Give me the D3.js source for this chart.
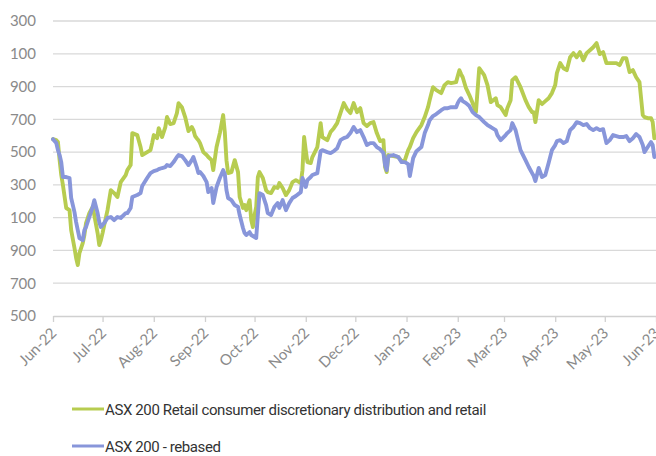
<!DOCTYPE html>
<html>
<head>
<meta charset="utf-8">
<script src="https://cdn.jsdelivr.net/npm/d3@7"></script>
<style>
  html, body { margin: 0; padding: 0; background: #ffffff; }
  svg { display: block; }
</style>
</head>
<body>
<svg id="chart" width="656" height="456"></svg>
<script>
// ---------------- DATA ----------------
const dates = [
"2022-06-01","2022-06-03","2022-06-04","2022-06-05","2022-06-06","2022-06-07","2022-06-09","2022-06-11","2022-06-12","2022-06-14",
"2022-06-15","2022-06-16","2022-06-17","2022-06-19","2022-06-20","2022-06-21","2022-06-23","2022-06-25","2022-06-26","2022-06-28",
"2022-06-29","2022-06-30","2022-07-01","2022-07-02","2022-07-04","2022-07-06","2022-07-08","2022-07-10","2022-07-12","2022-07-15",
"2022-07-16","2022-07-18","2022-07-19","2022-07-22","2022-07-24","2022-07-25","2022-07-28","2022-07-30","2022-07-31","2022-08-01",
"2022-08-03","2022-08-04","2022-08-06","2022-08-08","2022-08-09","2022-08-11","2022-08-13","2022-08-15","2022-08-16","2022-08-18",
"2022-08-20","2022-08-22","2022-08-24","2022-08-25","2022-08-26","2022-08-27","2022-08-28","2022-08-29","2022-08-31","2022-09-02",
"2022-09-03","2022-09-05","2022-09-06","2022-09-08","2022-09-10","2022-09-12","2022-09-13","2022-09-14","2022-09-15","2022-09-17",
"2022-09-19","2022-09-21","2022-09-22","2022-09-24","2022-09-25","2022-09-26","2022-09-28","2022-09-29","2022-09-30","2022-10-01",
"2022-10-02","2022-10-03","2022-10-04","2022-10-06","2022-10-08","2022-10-09","2022-10-11","2022-10-13","2022-10-15","2022-10-16",
"2022-10-18","2022-10-20","2022-10-22","2022-10-24","2022-10-26","2022-10-29","2022-10-30","2022-10-31","2022-11-01","2022-11-02",
"2022-11-04","2022-11-05","2022-11-08","2022-11-10","2022-11-11","2022-11-14","2022-11-16","2022-11-18","2022-11-20","2022-11-22",
"2022-11-24","2022-11-26","2022-11-28","2022-11-30","2022-12-02","2022-12-04","2022-12-06","2022-12-08","2022-12-10","2022-12-12",
"2022-12-14","2022-12-16","2022-12-18","2022-12-19","2022-12-20","2022-12-21","2022-12-24","2022-12-27","2022-12-29","2022-12-31",
"2023-01-02","2023-01-03","2023-01-05","2023-01-07","2023-01-10","2023-01-12","2023-01-14","2023-01-15","2023-01-17","2023-01-19",
"2023-01-22","2023-01-24","2023-01-26","2023-01-28","2023-01-31","2023-02-01","2023-02-02","2023-02-03","2023-02-04","2023-02-06",
"2023-02-08","2023-02-10","2023-02-12","2023-02-13","2023-02-14","2023-02-17","2023-02-19","2023-02-21","2023-02-24","2023-02-25",
"2023-02-27","2023-03-02","2023-03-03","2023-03-05","2023-03-06","2023-03-08","2023-03-11","2023-03-14","2023-03-16","2023-03-18",
"2023-03-19","2023-03-20","2023-03-22","2023-03-24","2023-03-26","2023-03-28","2023-03-30","2023-04-01","2023-04-02","2023-04-04",
"2023-04-06","2023-04-08","2023-04-10","2023-04-12","2023-04-14","2023-04-16","2023-04-18","2023-04-20","2023-04-22","2023-04-24",
"2023-04-26","2023-04-28","2023-04-30","2023-05-02","2023-05-04","2023-05-06","2023-05-08","2023-05-10","2023-05-12","2023-05-14",
"2023-05-16","2023-05-18","2023-05-20","2023-05-22","2023-05-24","2023-05-25","2023-05-27","2023-05-29","2023-05-30","2023-05-31"
];

const retailValues = [
7579,7573,7561,7451,7360,7299,7159,7146,7024,6915,
6854,6811,6884,6945,6994,7067,7128,7165,7116,7006,
6933,6963,7006,7055,7146,7268,7250,7226,7317,7360,
7390,7421,7616,7604,7531,7482,7500,7512,7555,7604,
7585,7646,7592,7653,7714,7671,7677,7738,7799,7774,
7714,7628,7653,7634,7598,7585,7573,7555,7500,7482,
7470,7451,7390,7531,7616,7726,7622,7451,7372,7378,
7451,7378,7226,7159,7177,7146,7207,7085,7043,7116,
7165,7348,7378,7342,7268,7256,7250,7287,7281,7311,
7281,7238,7268,7317,7329,7311,7390,7592,7512,7439,
7433,7470,7531,7677,7592,7573,7622,7646,7677,7738,
7799,7762,7738,7799,7744,7768,7677,7659,7677,7683,
7616,7567,7573,7409,7378,7482,7476,7470,7445,7451,
7512,7531,7585,7622,7665,7714,7774,7817,7896,7878,
7860,7909,7927,7921,7927,7964,8000,7976,7957,7890,
7848,7799,7744,7878,8012,7970,7909,7805,7829,7787,
7774,7726,7768,7817,7939,7957,7896,7817,7774,7744,
7744,7683,7817,7793,7811,7829,7860,7909,7982,8043,
8012,8000,8079,8104,8079,8110,8061,8104,8122,8140,
8165,8098,8110,8043,8043,8043,8043,8031,8073,8073,
7988,8000,7957,7927,7726,7714,7707,7707,7683,7585
];

const asxValues = [
7579,7555,7512,7482,7439,7348,7348,7342,7220,7134,
7073,7024,6976,6963,7024,7043,7104,7165,7207,7128,
7073,7043,7055,7067,7098,7104,7085,7104,7098,7128,
7128,7159,7226,7238,7250,7293,7342,7372,7378,7384,
7390,7396,7403,7409,7421,7415,7439,7470,7482,7476,
7451,7421,7451,7470,7439,7409,7372,7378,7354,7317,
7256,7281,7189,7287,7342,7390,7366,7268,7220,7207,
7177,7165,7116,7037,7006,6994,7012,6994,6988,6982,
6976,7116,7250,7238,7177,7128,7116,7165,7189,7159,
7207,7146,7189,7220,7232,7256,7342,7317,7287,7329,
7348,7360,7372,7506,7512,7500,7494,7506,7524,7573,
7585,7592,7616,7653,7622,7634,7592,7543,7555,7555,
7531,7518,7494,7421,7390,7476,7482,7470,7439,7439,
7427,7354,7463,7506,7531,7616,7665,7695,7720,7732,
7756,7768,7768,7774,7774,7799,7817,7829,7811,7799,
7781,7744,7726,7720,7714,7683,7665,7653,7634,7604,
7573,7604,7616,7634,7677,7634,7512,7451,7409,7372,
7354,7323,7403,7348,7360,7433,7512,7543,7567,7573,
7555,7567,7634,7653,7683,7677,7665,7671,7646,7634,
7646,7634,7640,7555,7573,7604,7598,7592,7592,7598,
7567,7585,7610,7592,7543,7500,7531,7561,7543,7470
];

const seriesNames = [
  "ASX 200 Retail consumer discretionary distribution and retail",
  "ASX 200 - rebased"
];

const yTickValues = [6500, 6700, 6900, 7100, 7300, 7500, 7700, 7900, 8100, 8300];
const yTickLabels = ["500", "700", "900", "100", "300", "500", "700", "900", "100", "300"];

const xTickDates = ["2022-06-01","2022-07-01","2022-08-01","2022-09-01","2022-10-01","2022-11-01","2022-12-01",
                    "2023-01-01","2023-02-01","2023-03-01","2023-04-01","2023-05-01","2023-06-01"];
const xTickLabels = ["Jun-22","Jul-22","Aug-22","Sep-22","Oct-22","Nov-22","Dec-22",
                     "Jan-23","Feb-23","Mar-23","Apr-23","May-23","Jun-23"];

// ---------------- CHART ----------------
const colors = ["#b7cc50", "#8896da"];
const parse = d3.timeParse("%Y-%m-%d");
const svg = d3.select("#chart");

const x = d3.scaleTime()
  .domain([parse("2022-06-01"), parse("2023-06-01")])
  .range([53, 656]);
const y = d3.scaleLinear()
  .domain([6500, 8300])
  .range([316, 21]);

// gridlines
svg.append("g")
  .selectAll("line")
  .data(yTickValues.slice(1))
  .join("line")
  .attr("x1", 53).attr("x2", 656)
  .attr("y1", d => y(d)).attr("y2", d => y(d))
  .attr("stroke", "#d9d9d9").attr("stroke-width", 1.3);

// y axis labels
const yAxis = d3.axisLeft(y)
  .tickValues(yTickValues)
  .tickSize(0)
  .tickPadding(0)
  .tickFormat((d, i) => yTickLabels[i]);
const gy = svg.append("g").attr("transform", "translate(36,0)").call(yAxis);
gy.select(".domain").remove();
gy.selectAll("text")
  .attr("fill", "#8a8a8a")
  .style("font-family", "Lato, 'Open Sans', sans-serif")
  .style("font-size", "15px");

// x axis
const xAxis = d3.axisBottom(x)
  .tickValues(xTickDates.map(parse))
  .tickSize(6)
  .tickSizeOuter(0)
  .tickFormat((d, i) => xTickLabels[i]);
const gx = svg.append("g").attr("transform", `translate(0,${y(6500)})`).call(xAxis);
gx.select(".domain").attr("stroke", "#d0d0d0").attr("stroke-width", 1.3);
gx.selectAll(".tick line").attr("stroke", "#d0d0d0").attr("stroke-width", 1.3);
gx.selectAll(".tick text")
  .attr("fill", "#8a8a8a")
  .style("font-family", "Lato, 'Open Sans', sans-serif")
  .style("font-size", "15px")
  .attr("text-anchor", "end")
  .attr("dy", null)
  .attr("y", 0)
  .attr("transform", "translate(4,18) rotate(-45)");

// lines
const lineGen = d3.line()
  .x(d => x(d.date))
  .y(d => y(d.value))
  .curve(d3.curveLinear);

const allSeries = [retailValues, asxValues].map((vals, s) => ({
  name: seriesNames[s],
  color: colors[s],
  points: vals.map((v, i) => ({ date: parse(dates[i]), value: v }))
}));

svg.append("g")
  .selectAll("path")
  .data(allSeries)
  .join("path")
  .attr("d", d => lineGen(d.points))
  .attr("fill", "none")
  .attr("stroke", d => d.color)
  .attr("stroke-width", 3.9)
  .attr("stroke-linejoin", "round")
  .attr("stroke-linecap", "round");

// legend
const legendY = [409, 446];
const lg = svg.append("g");
allSeries.forEach((s, i) => {
  lg.append("line")
    .attr("x1", 72).attr("x2", 104)
    .attr("y1", legendY[i]).attr("y2", legendY[i])
    .attr("stroke", s.color).attr("stroke-width", 3);
  lg.append("text")
    .attr("x", 105).attr("y", legendY[i] + 6)
    .attr("fill", "#333333")
    .style("font-family", "Roboto, sans-serif")
    .style("font-size", "15px")
    .style("letter-spacing", i === 0 ? "-0.38px" : "-0.4px")
    .text(s.name);
});
</script>
</body>
</html>
